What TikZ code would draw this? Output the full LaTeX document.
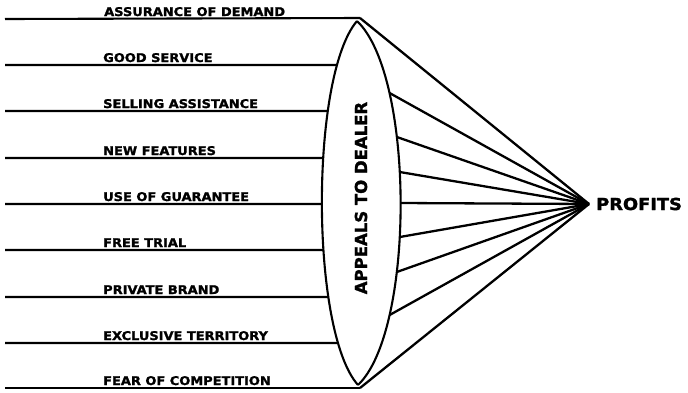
\documentclass[tikz,border=0pt]{standalone}
\usepackage{fontspec}
\usetikzlibrary{intersections}
\newfontfamily\lblfont[FakeStretch=1.08,FakeBold=1.6]{DejaVu Sans}
\newfontfamily\bigfont[FakeBold=1.6]{DejaVu Sans}
\newfontfamily\proffont[FakeStretch=1.08,FakeBold=1.8]{DejaVu Sans}
\begin{document}
\begin{tikzpicture}[x=1pt,y=-1pt,
  feed/.style={line width=2.1pt},
  ray/.style={line width=2.3pt},
  lensline/.style={line width=2.1pt},
  lbl/.style={anchor=base west,inner sep=0pt,font=\lblfont\bfseries\fontsize{12}{13}\selectfont},
  centre/.style={inner sep=0pt,rotate=90,font=\bigfont\bfseries\fontsize{16.5}{17}\selectfont},
  goal/.style={anchor=west,inner sep=0pt,font=\proffont\bfseries\fontsize{16.5}{17}\selectfont}]
\useasboundingbox (0,0) rectangle (688,392);
% lens
\draw[lensline, name path=lensL] (357,21) .. controls (310,76) and (310,331) .. (358,385);
\draw[lensline, name path=lensR] (357,21) .. controls (415,76) and (415,331) .. (358,385);
\node[centre] (appeals) at (361,198) {APPEALS TO DEALER};
% goal
\coordinate (P) at (589,204);
\node[goal] (profits) at (596,204) {PROFITS};
% top and bottom feeds
\coordinate (s1) at (5,19);
\coordinate (tipT) at (360,18);
\coordinate (s9) at (5,388);
\coordinate (tipB) at (360,388);
\draw[feed] (s1) -- (tipT);
\draw[feed] (s9) -- (tipB);
\draw[ray] (tipT) -- (P);
\draw[ray] (tipB) -- (P);
\node[lbl] (l1) at (104,16) {ASSURANCE OF DEMAND};
\node[lbl] (l9) at (103,385) {FEAR OF COMPETITION};
% middle feeds
\foreach \y/\t [count=\i] in {65/GOOD SERVICE,111/SELLING ASSISTANCE,158/NEW FEATURES,204/USE OF GUARANTEE,250/FREE TRIAL,297/PRIVATE BRAND,343/EXCLUSIVE TERRITORY}{
  \coordinate (s\i) at (5,\y);
  \path[name path=h\i] (0,\y) -- (400,\y);
  \path[name intersections={of=lensL and h\i, by=e\i}];
  \draw[feed] (s\i) -- (e\i);
  \node[lbl] (m\i) at (103,\y-3) {\t};
}
% rays from lens
\foreach \y [count=\i] in {93,137,172,203,237,272,315}{
  \path[name path=g\i] (360,\y) -- (450,\y);
  \path[name intersections={of=lensR and g\i, by=r\i}];
  \draw[ray] (r\i) -- (P);
}
\end{tikzpicture}
\end{document}
